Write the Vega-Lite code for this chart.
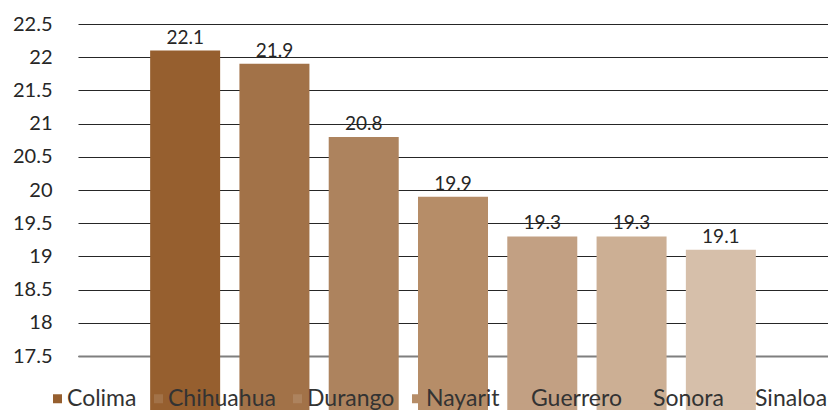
{
  "$schema": "https://vega.github.io/schema/vega-lite/v6.json",
  "width": 750,
  "height": 332,
  "autosize": {"type": "none"},
  "padding": {"left": 78, "top": 24, "right": 0, "bottom": 54},
  "background": "white",
  "config": {
    "view": {"stroke": null},
    "font": "Lato"
  },
  "data": {
    "values": [
      {"estado": "Colima", "valor": 22.1},
      {"estado": "Chihuahua", "valor": 21.9},
      {"estado": "Durango", "valor": 20.8},
      {"estado": "Nayarit", "valor": 19.9},
      {"estado": "Guerrero", "valor": 19.3},
      {"estado": "Sonora", "valor": 19.3},
      {"estado": "Sinaloa", "valor": 19.1}
    ]
  },
  "encoding": {
    "x": {
      "field": "estado",
      "type": "nominal",
      "sort": null,
      "scale": {"paddingInner": 0.216, "paddingOuter": 0.808},
      "axis": {"title": null, "labels": false, "ticks": false, "domain": true, "domainColor": "#7f7f7f", "domainWidth": 2, "zindex": 0}
    },
    "y": {
      "field": "valor",
      "type": "quantitative",
      "scale": {"domain": [17.5, 22.5], "zero": false, "nice": false},
      "axis": {
        "title": null,
        "values": [17.5, 18, 18.5, 19, 19.5, 20, 20.5, 21, 21.5, 22, 22.5],
        "format": "~g",
        "ticks": false,
        "domain": false,
        "grid": true,
        "gridColor": "#262626",
        "gridWidth": 1,
        "labelFontSize": 20,
        "labelColor": "#262626",
        "labelPadding": 26
      }
    }
  },
  "layer": [
    {
      "mark": {"type": "bar", "y2": {"expr": "scale('y', 17.5) + 1"}},
      "encoding": {
        "color": {
          "field": "estado",
          "type": "nominal",
          "sort": null,
          "scale": {
            "domain": ["Colima", "Chihuahua", "Durango", "Nayarit", "Guerrero", "Sonora", "Sinaloa"],
            "range": ["#965F2F", "#A27248", "#AD835E", "#B68D68", "#C2A083", "#CCAF94", "#D6BFAA"]
          },
          "legend": {
            "title": null,
            "orient": "none",
            "direction": "horizontal",
            "legendX": -32,
            "legendY": 363,
            "symbolType": "square",
            "symbolSize": 81,
            "symbolStrokeWidth": 0,
            "symbolOpacity": 1,
            "labelFontSize": 23,
            "labelColor": "#333333",
            "labelOffset": -2,
            "columnPadding": 10
          }
        }
      }
    },
    {
      "mark": {"type": "text", "baseline": "alphabetic", "dy": -7, "fontSize": 19, "color": "#262626"},
      "encoding": {
        "text": {"field": "valor", "type": "quantitative", "format": ".1f"}
      }
    }
  ]
}
